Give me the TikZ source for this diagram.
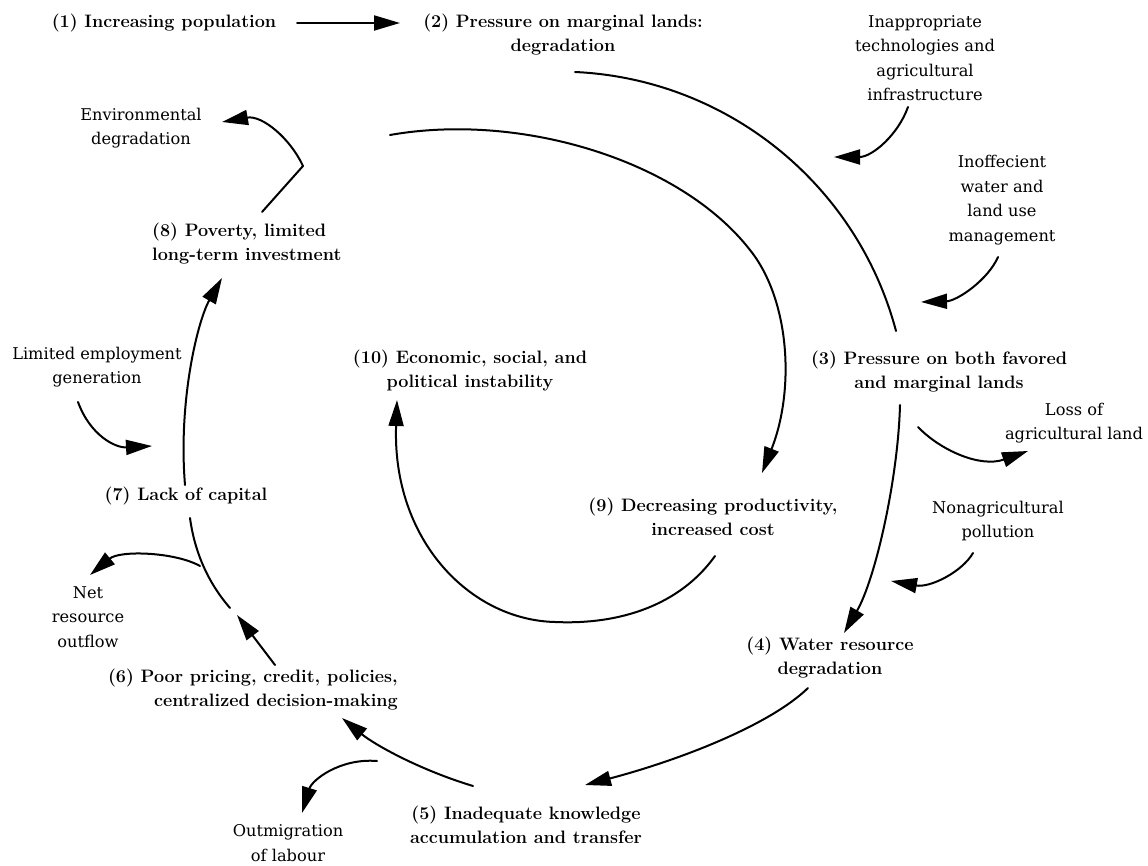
\documentclass[tikz,border=0pt]{standalone}
\usepackage{fontspec}
\newfontfamily\sidefont{DejaVu Serif}
\usetikzlibrary{arrows.meta}
\begin{document}
\begin{tikzpicture}[x=1pt,y=-1pt,
  lab/.style={inner sep=0pt, align=center, font=\fontsize{18}{24}\selectfont\bfseries},
  side/.style={inner sep=0pt, align=center, font=\sidefont\fontsize{16.2}{24.5}\selectfont},
  con/.style={line width=2pt, line cap=round},
  arr/.style={con, -{Triangle[length=26pt,width=15pt]}}]
\fill[white] (0,0) rectangle (1148,866);
\useasboundingbox (0,0) rectangle (1148,866);

% main labels
\node[lab] (n1) at (164,23) {(1) Increasing population};
\node[lab] (n2) at (563,35) {(2) Pressure on marginal lands:\\degradation};
\node[lab] (n3) at (939,372) {(3) Pressure on both favored\\and marginal lands};
\node[lab] (n4) at (830,658) {(4) Water resource\\degradation};
\node[lab] (n5) at (526,825) {(5) Inadequate knowledge\\accumulation and transfer};
\node[lab, align=right, anchor=east] (n6) at (398,690) {(6) Poor pricing, credit, policies,\\centralized decision-making};
\node[lab] (n7) at (186,496) {(7) Lack of capital};
\node[lab, align=left, anchor=west] (n8) at (152,244) {(8) Poverty, limited\\long-term investment};
\node[lab] (n9) at (713,517) {(9) Decreasing productivity,\\increased cost};
\node[lab] (n10) at (470,371) {(10) Economic, social, and\\political instability};

% side labels
\node[side] (s1) at (925,58) {Inappropriate\\technologies and\\agricultural\\infrastructure};
\node[side] (s2) at (141,128) {Environmental\\degradation};
\node[side] (s3) at (1002,200) {Inoffecient\\water and\\land use\\management};
\node[side] (s4) at (97,367) {Limited employment\\generation};
\node[side] (s5) at (1074,423) {Loss of\\agricultural land};
\node[side] (s6) at (998,521) {Nonagricultural\\pollution};
\node[side] (s7) at (88,617) {Net\\resource\\outflow};
\node[side] (s8) at (288,843) {Outmigration\\of labour};

% connector end points
\coordinate (c12s) at (297,23);   \coordinate (c12e) at (400,23);
\coordinate (c23s) at (575,72);   \coordinate (c23e) at (896,331);
\coordinate (c34s) at (900,405);  \coordinate (c34e) at (844,633);
\coordinate (c45s) at (808,688);  \coordinate (c45e) at (585,785);
\coordinate (c56s) at (473,786);  \coordinate (c56e) at (342,718);
\coordinate (c67s) at (275,665);  \coordinate (c67e) at (237,615);
\coordinate (c67b) at (230,608);  \coordinate (c67t) at (190,518);
\coordinate (cnet) at (200,566);  \coordinate (cnete) at (90,575);
\coordinate (c78s) at (185,485);  \coordinate (c78e) at (222,278);
\coordinate (c8s) at (262,212);   \coordinate (c8j) at (303,166);
\coordinate (cenv) at (222,122);
\coordinate (c89s) at (390,135);  \coordinate (c89m) at (750,250); \coordinate (c89e) at (762,473);
\coordinate (c910s) at (715,556); \coordinate (c910m) at (555,622); \coordinate (c910e) at (397,400);
\coordinate (ia) at (908,107);    \coordinate (iae) at (834,157);
\coordinate (ib) at (998,257);    \coordinate (ibe) at (921,302);
\coordinate (ic) at (78,402);     \coordinate (ice) at (152,446);
\coordinate (id) at (918,427);    \coordinate (ide) at (1028,451);
\coordinate (ie) at (973,553);    \coordinate (iee) at (891,581);
\coordinate (if) at (377,761);    \coordinate (ife) at (302,813);

% main cycle
\draw[arr] (c12s) -- (c12e);
\draw[con] (c23s) .. controls (727,79) and (857,184) .. (c23e);
\draw[arr] (c34s) .. controls (898,480) and (875,580) .. (c34e);
\draw[arr] (c45s) .. controls (770,725) and (680,760) .. (c45e);
\draw[arr] (c56s) .. controls (420,770) and (375,745) .. (c56e);
\draw[arr] (c67s) -- (c67e);
\draw[con] (c67b) .. controls (210,585) and (195,555) .. (c67t);
\draw[arr] (cnet) .. controls (175,552) and (120,550) .. (cnete);
\draw[arr] (c78s) .. controls (178,400) and (198,320) .. (c78e);
\draw[con] (c8s) -- (c8j);
\draw[arr] (c8j) .. controls (290,138) and (262,115) .. (cenv);
\draw[arr] (c89s) .. controls (520,112) and (680,160) .. (c89m)
               .. controls (790,300) and (795,390) .. (c89e);
\draw[arr] (c910s) .. controls (680,605) and (620,625) .. (c910m)
                .. controls (470,620) and (392,540) .. (c910e);

% external influences
\draw[arr] (ia) .. controls (898,135) and (872,157) .. (iae);
\draw[arr] (ib) .. controls (988,280) and (957,301) .. (ibe);
\draw[arr] (ic) .. controls (90,435) and (115,448) .. (ice);
\draw[arr] (id) .. controls (940,450) and (980,468) .. (ide);
\draw[arr] (ie) .. controls (962,572) and (930,588) .. (iee);
\draw[arr] (if) .. controls (340,758) and (312,780) .. (ife);
\end{tikzpicture}
\end{document}
